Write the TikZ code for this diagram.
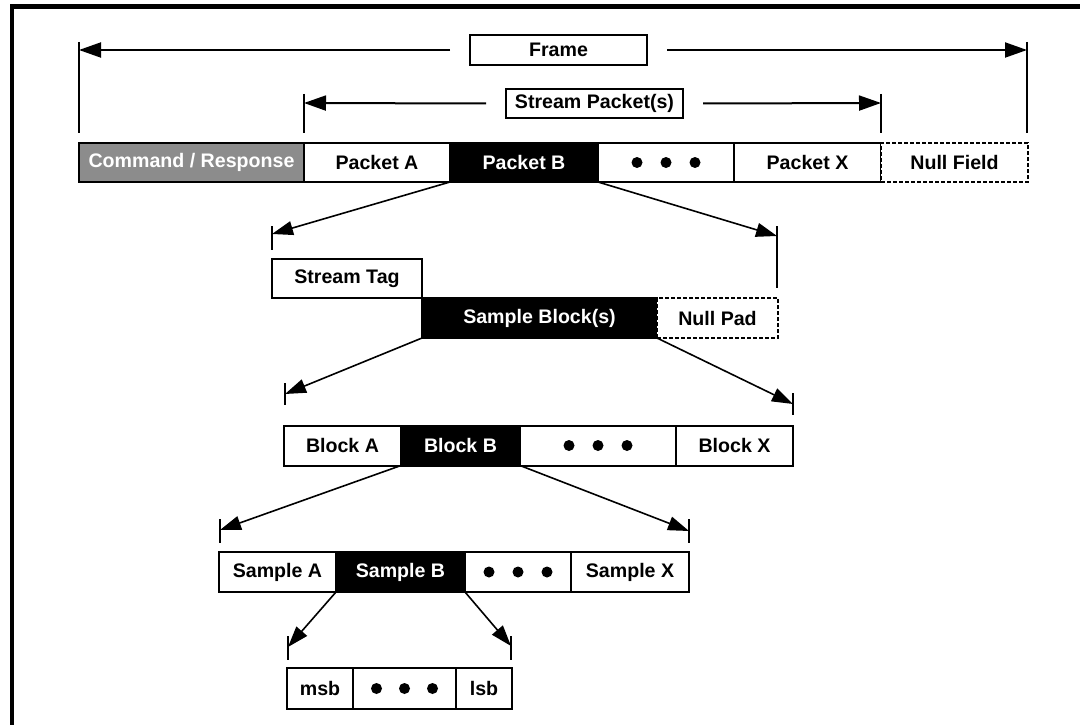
\documentclass[tikz,border=0pt]{standalone}
\usepackage{fontspec}
\setmainfont{Liberation Sans}
\usetikzlibrary{arrows.meta}
\definecolor{cmdgray}{HTML}{8C8C8C}
\tikzset{
  cell/.style={draw, line width=2pt, inner sep=0pt, outer sep=0pt, align=center,
    font=\fontsize{19.6}{23}\selectfont\bfseries, fill=white},
  dark/.style={cell, fill=black, text=white},
  graycell/.style={cell, fill=cmdgray, text=white},
  nullcell/.style={cell, line width=2.2pt, dash pattern=on 4pt off 2pt},
  arr/.style={line width=2pt, -{Triangle[length=22pt,width=15pt]}},
  darr/.style={line width=1.6pt, -{Triangle[length=21pt,width=14pt]}},
  tick/.style={line width=2pt},
  dot/.style={fill=black}
}
\begin{document}
\begin{tikzpicture}[x=1pt,y=-1pt]
\useasboundingbox (0,0) rectangle (1080,725);
\fill[white] (0,0) rectangle (1080,725);
% outer frame
\draw[line width=4.5pt, line join=miter] (12,730) -- (12,6.5) -- (1085,6.5);

% labels
\node[cell, minimum width=177pt, minimum height=30pt] (frame) at (558.5,50) {Frame};
\node[cell, minimum width=177pt, minimum height=29pt] (sp) at (594.5,103.5) {Stream Packet(s)};

% main row
\node[graycell, minimum width=225pt, minimum height=39pt] (cmd) at (191.5,162.5) {Command / Response};
\node[cell, minimum width=146pt, minimum height=39pt] (pa) at (377,162.5) {Packet A};
\node[dark, minimum width=148pt, minimum height=39pt] (pb) at (524,162.5) {Packet B};
\node[cell, minimum width=136pt, minimum height=39pt] (pdots) at (666,162.5) {};
\node[cell, minimum width=147pt, minimum height=39pt] (px) at (807.5,162.5) {Packet X};
\node[nullcell, minimum width=147pt, minimum height=39pt] (nf) at (954.5,162.5) {Null Field};
\foreach \d in {-29,0,29} \fill[dot] ([xshift=\d pt]pdots.center) circle (5.5);

% frame dimension
\coordinate (ftl) at (79,42); \coordinate (fbl) at (79,133);
\coordinate (ftr) at (1027,42); \coordinate (fbr) at (1027,133);
\draw[tick] (ftl) -- (fbl);
\draw[tick] (ftr) -- (fbr);
\coordinate (fl) at (79,50); \coordinate (fr) at (1027,50);
\draw[arr] ([xshift=-20pt]frame.west) -- (fl);
\draw[arr] ([xshift=20pt]frame.east) -- (fr);

% stream packet dimension
\coordinate (stl) at (304,94); \coordinate (sbl) at (304,133);
\coordinate (str) at (881,94); \coordinate (sbr) at (881,133);
\draw[tick] (stl) -- (sbl);
\draw[tick] (str) -- (sbr);
\coordinate (sl) at (304,103); \coordinate (sr) at (881,103);
\draw[arr] ([xshift=-20pt]sp.west) -- (sl);
\draw[arr] ([xshift=20pt]sp.east) -- (sr);

% packet expansion
\node[cell, minimum width=150pt, minimum height=39pt] (tag) at (347,278.5) {Stream Tag};
\node[dark, minimum width=235pt, minimum height=40pt] (sb) at (539.5,318) {Sample Block(s)};
\node[nullcell, minimum width=121pt, minimum height=40pt] (np) at (717.5,318) {Null Pad};
\coordinate (p1t) at (272,226); \coordinate (p1b) at (272,250);
\coordinate (p2t) at (777,226); \coordinate (p2b) at (777,288);
\draw[tick] (p1t) -- (p1b);
\draw[tick] (p2t) -- (p2b);
\coordinate (p1) at (272,234); \coordinate (p2) at (777,236);
\draw[darr] (pb.south west) -- (p1);
\draw[darr] (pb.south east) -- (p2);

% block row
\node[cell, minimum width=117pt, minimum height=40pt] (ba) at (342.5,445.5) {Block A};
\node[dark, minimum width=119pt, minimum height=40pt] (bb) at (460.5,445.5) {Block B};
\node[cell, minimum width=156pt, minimum height=40pt] (bdots) at (598,445.5) {};
\node[cell, minimum width=117pt, minimum height=40pt] (bx) at (734.5,445.5) {Block X};
\foreach \d in {-29,0,29} \fill[dot] ([xshift=\d pt]bdots.center) circle (5.5);
\coordinate (b1t) at (285,383); \coordinate (b1b) at (285,405);
\coordinate (b2t) at (793,393); \coordinate (b2b) at (793,415);
\draw[tick] (b1t) -- (b1b);
\draw[tick] (b2t) -- (b2b);
\coordinate (b1) at (285,394); \coordinate (b2) at (793,404);
\draw[darr] (sb.south west) -- (b1);
\draw[darr] (sb.south east) -- (b2);

% sample row
\node[cell, minimum width=117pt, minimum height=40pt] (sa) at (277.5,572) {Sample A};
\node[dark, minimum width=129pt, minimum height=40pt] (sbb) at (400.5,572) {Sample B};
\node[cell, minimum width=106pt, minimum height=40pt] (sdots) at (518,572) {};
\node[cell, minimum width=118pt, minimum height=40pt] (sx) at (630,572) {Sample X};
\foreach \d in {-29,0,29} \fill[dot] ([xshift=\d pt]sdots.center) circle (5.5);
\coordinate (s1t) at (220,519); \coordinate (s1b) at (220,543);
\coordinate (s2t) at (689,519); \coordinate (s2b) at (689,543);
\draw[tick] (s1t) -- (s1b);
\draw[tick] (s2t) -- (s2b);
\coordinate (s1) at (220,530); \coordinate (s2) at (689,531);
\draw[darr] (bb.south west) -- (s1);
\draw[darr] (bb.south east) -- (s2);

% bit row
\node[cell, minimum width=66pt, minimum height=41pt] (msb) at (320,688.5) {msb};
\node[cell, minimum width=103pt, minimum height=41pt] (bitdots) at (404.5,688.5) {};
\node[cell, minimum width=56pt, minimum height=41pt] (lsb) at (484,688.5) {lsb};
\foreach \d in {-28,0,28} \fill[dot] ([xshift=\d pt]bitdots.center) circle (5.5);
\coordinate (m1t) at (288,636); \coordinate (m1b) at (288,660);
\coordinate (m2t) at (511,636); \coordinate (m2b) at (511,660);
\draw[tick] (m1t) -- (m1b);
\draw[tick] (m2t) -- (m2b);
\coordinate (m1) at (288,647); \coordinate (m2) at (511,646);
\draw[darr] (sbb.south west) -- (m1);
\draw[darr] (sbb.south east) -- (m2);
\end{tikzpicture}
\end{document}
